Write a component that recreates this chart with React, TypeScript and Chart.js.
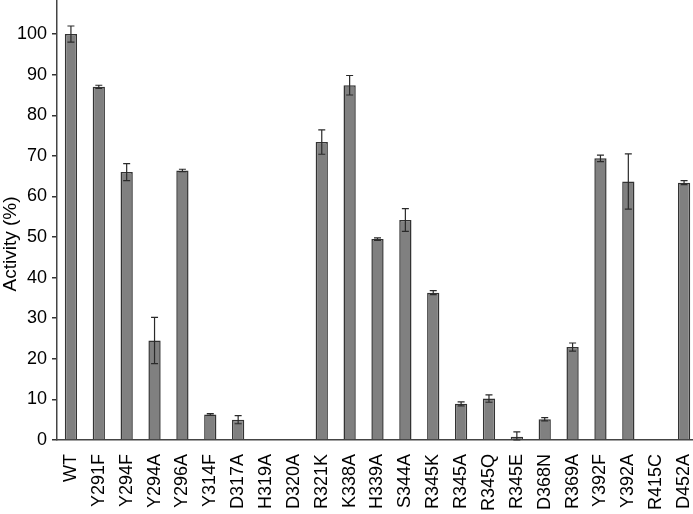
import React, { useEffect, useRef } from "react";
import { Chart, registerables } from "chart.js";

Chart.register(...registerables);

const categories = ["WT","Y291F","Y294F","Y294A","Y296A","Y314F","D317A","H319A","D320A","R321K","K338A","H339A","S344A","R345K","R345A","R345Q","R345E","D368N","R369A","Y392F","Y392A","R415C","D452A"];
const activity = [100, 87, 66, 24.5, 66.4, 6.3, 5.0, 0, 0, 73.4, 87.4, 49.5, 54.2, 36.3, 8.9, 10.2, 0.8, 5.1, 22.9, 69.4, 63.7, 0, 63.4];
const errors = [2, 0.4, 2.1, 5.7, 0.3, 0.2, 1.0, 0, 0, 3.0, 2.4, 0.3, 2.8, 0.5, 0.5, 0.9, 1.2, 0.4, 1.0, 0.8, 6.8, 0, 0.5];
const yTicks = [0, 10, 20, 30, 40, 50, 60, 70, 80, 90, 100];
const yTitle = "Activity (%)";

const FONT = "'Liberation Sans', Arial, Helvetica, sans-serif";

const errorBarPlugin = {
  id: "errorBars",
  afterDatasetsDraw(chart: any) {
    const ctx = chart.ctx;
    const meta = chart.getDatasetMeta(0);
    const y = chart.scales.y;
    ctx.save();
    ctx.strokeStyle = "#2a2a2a";
    ctx.lineWidth = 1.2;
    meta.data.forEach((bar: any, i: number) => {
      const e = errors[i];
      const v = activity[i];
      if (!e || !v) return;
      const x = bar.x;
      const yTop = y.getPixelForValue(v + e);
      const yBot = y.getPixelForValue(Math.max(0, v - e));
      const cap = 3.5;
      ctx.beginPath();
      ctx.moveTo(x, yTop);
      ctx.lineTo(x, yBot);
      ctx.moveTo(x - cap, yTop);
      ctx.lineTo(x + cap, yTop);
      ctx.moveTo(x - cap, yBot);
      ctx.lineTo(x + cap, yBot);
      ctx.stroke();
    });
    ctx.restore();
  },
  afterDraw(chart: any) {
    const ctx = chart.ctx;
    ctx.save();
    ctx.translate(15.5, 244);
    ctx.rotate(-Math.PI / 2);
    ctx.font = `19px ${FONT}`;
    ctx.fillStyle = "#000";
    ctx.textAlign = "center";
    ctx.textBaseline = "alphabetic";
    ctx.fillText(yTitle, 0, 0);
    ctx.restore();
  },
};

export default function App() {
  const ref = useRef<HTMLCanvasElement | null>(null);
  useEffect(() => {
    document.body.style.overflow = "hidden";
    document.documentElement.style.overflow = "hidden";
    if (!ref.current) return;
    const chart = new Chart(ref.current, {
      type: "bar",
      data: {
        labels: categories,
        datasets: [
          {
            data: activity,
            backgroundColor: "#808080",
            borderColor: "#333333",
            borderWidth: 1.5,
            barPercentage: 0.44,
            categoryPercentage: 1.0,
          },
        ],
      },
      options: {
        animation: false,
        responsive: false,
        maintainAspectRatio: false,
        layout: { padding: 0 },
        plugins: { legend: { display: false }, tooltip: { enabled: false } },
        scales: {
          x: {
            grid: { display: false, drawTicks: false },
            border: { display: true, color: "#444444", width: 1.5 },
            ticks: {
              color: "#000",
              font: { family: FONT, size: 18 },
              minRotation: 90,
              maxRotation: 90,
              padding: 14,
              autoSkip: false,
            },
            afterFit(scale: any) {
              scale.height = 74;
              scale.paddingLeft = 0;
              scale.paddingRight = 0;
            },
          },
          y: {
            min: 0,
            max: 108.4,
            grid: { drawOnChartArea: false, drawTicks: true, tickLength: 5, color: "#333333", lineWidth: 1.5 },
            border: { display: true, color: "#444444", width: 1.5 },
            afterBuildTicks(scale: any) {
              scale.ticks = yTicks.map((v) => ({ value: v }));
            },
            ticks: {
              color: "#000",
              font: { family: FONT, size: 18 },
              padding: 5,
            },
            afterFit(scale: any) {
              scale.width = 57;
              scale.paddingTop = 0;
              scale.paddingBottom = 0;
            },
          },
        },
      },
      plugins: [errorBarPlugin],
    });
    return () => chart.destroy();
  }, []);
  return (
    <div style={{ position: "fixed", left: 0, top: 0, width: 698, height: 514, background: "#fff" }}>
      <canvas ref={ref} width={698} height={514} style={{ display: "block" }} />
    </div>
  );
}
